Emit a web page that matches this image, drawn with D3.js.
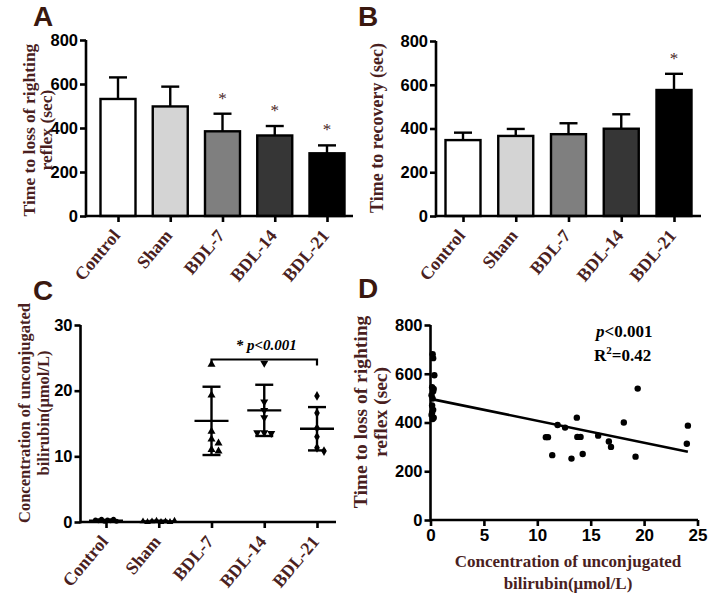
<!DOCTYPE html>
<html><head><meta charset="utf-8">
<script src="https://cdn.jsdelivr.net/npm/d3@7"></script>
<style>body{margin:0;background:#fff}svg{display:block}</style>
</head><body>
<svg id="c" width="708" height="593"></svg>
<script>
// ---------------- DATA ----------------
const categories = ["Control", "Sham", "BDL-7", "BDL-14", "BDL-21"];
const barFills = ["#ffffff", "#d4d4d4", "#7f7f7f", "#363636", "#000000"];

// Panel A: time to loss of righting reflex (sec)
const lorrMean = [532, 498, 385, 366, 285];
const lorrErr = [98, 90, 80, 43, 36];
const lorrSig = [false, false, true, true, true];

// Panel B: time to recovery (sec)
const recMean = [347, 366, 374, 399, 576];
const recErr = [34, 32, 50, 66, 74];
const recSig = [false, false, false, false, true];

const barTicks = [0, 200, 400, 600, 800];

// Panel C: unconjugated bilirubin (umol/L)
const biliControl = [0.3, 0.2, 0.4, 0.1, 0.3, 0.2, 0.4, 0.1];
const biliSham = [0.1, 0.0, 0.1, 0.2, 0.0, 0.1, 0.0, 0.2];
const biliBDL7 = [24.0, 19.3, 13.8, 12.6, 12.0, 11.0, 10.8];
const biliBDL14 = [24.2, 18.3, 17.0, 15.9, 13.6, 13.5, 13.6];
const biliBDL21 = [19.2, 16.6, 14.3, 13.0, 11.3, 10.8];
const biliMean = [0.2, 0.1, 15.4, 17.0, 14.2];
const biliSD = [0.1, 0.1, 5.2, 3.9, 3.3];
const biliTicks = [0, 10, 20, 30];

// Panel D: correlation
const corrBili = [0.2, 0.25, 0.36, 0.15, 0.3, 0.25, 0.1, 0.2, 0.15, 0.25, 0.1, 0.2, 0.3, 0.15,
  10.8, 11.0, 11.4, 11.9, 12.6, 13.2, 13.7, 13.75, 14.05, 14.25, 15.7, 16.7, 16.9, 18.1, 19.4, 19.2, 24.1, 24.0];
const corrLorr = [680, 664, 594, 545, 538, 528, 512, 498, 470, 452, 431, 414, 420, 440,
  340, 340, 266, 390, 379, 252, 420, 341, 341, 271, 346, 322, 300, 400, 539, 260, 387, 313];
const fitX = [0, 24.1];
const fitY = [497, 280];
const corrXTicks = [0, 5, 10, 15, 20, 25];
const corrYTicks = [0, 200, 400, 600, 800];

// ---------------- STYLE ----------------
const SERIF = "'Liberation Serif','Times New Roman',serif";
const SANS = "'Liberation Sans',Arial,sans-serif";
const BROWN = "#4a1f1f";
const LETTER = "#3a180f";
const AXW = 2.6;

const svg = d3.select("#c");
svg.append("rect").attr("width", 708).attr("height", 593).attr("fill", "#fff");

function yAxis(g, scale, ticks, x, size) {
  const ax = g.append("g").attr("transform", `translate(${x},0)`)
    .call(d3.axisLeft(scale).tickValues(ticks).tickSize(6).tickPadding(2).tickSizeOuter(0));
  ax.select(".domain").remove();
  ax.selectAll(".tick line").attr("stroke", "#000").attr("stroke-width", AXW);
  ax.selectAll(".tick text").attr("font-family", SANS).attr("font-weight", "bold")
    .attr("font-size", size || 16.5).attr("fill", "#000");
  const r = scale.range();
  g.append("line").attr("x1", x).attr("x2", x).attr("y1", r[0] + AXW / 2).attr("y2", r[1])
    .attr("stroke", "#000").attr("stroke-width", AXW);
}

function catAxis(g, xs, y, x0, x1) {
  g.append("line").attr("x1", x0).attr("x2", x1).attr("y1", y).attr("y2", y)
    .attr("stroke", "#000").attr("stroke-width", AXW);
  const ax = g.append("g").attr("transform", `translate(0,${y})`)
    .call(d3.axisBottom(xs).tickSize(6).tickSizeOuter(0).tickFormat(""));
  ax.select(".domain").remove();
  ax.selectAll(".tick line").attr("stroke", "#000").attr("stroke-width", AXW);
  g.selectAll(null).data(categories).enter().append("text")
    .attr("transform", d => `translate(${xs(d) + 3},${y + 20}) rotate(-50)`)
    .attr("text-anchor", "end").attr("font-family", SERIF).attr("font-weight", "bold")
    .attr("font-size", 18).attr("fill", BROWN).text(d => d);
}

function yTitle(g, lines, cx, cy, size, gap) {
  const t = g.append("text").attr("transform", `translate(${cx},${cy}) rotate(-90)`)
    .attr("text-anchor", "middle").attr("font-family", SERIF).attr("font-weight", "bold")
    .attr("font-size", size).attr("fill", BROWN);
  lines.forEach((l, i) => t.append("tspan").attr("x", 0)
    .attr("dy", i === 0 ? -(lines.length - 1) * gap / 2 : gap).text(l));
}

function letter(txt, x, y) {
  svg.append("text").attr("x", x).attr("y", y).attr("font-family", SANS).attr("font-weight", "bold")
    .attr("font-size", 28).attr("fill", LETTER).text(txt);
}

function barPanel(mean, err, sig, xRange, axisX0, axisX1, yRange) {
  const g = svg.append("g");
  const x = d3.scalePoint().domain(categories).range(xRange);
  const y = d3.scaleLinear().domain([0, 800]).range(yRange);
  const bw = 35, cap = 9;
  categories.forEach((c, i) => {
    const cx = x(c);
    g.append("line").attr("x1", cx).attr("x2", cx).attr("y1", y(mean[i])).attr("y2", y(mean[i] + err[i]))
      .attr("stroke", "#000").attr("stroke-width", 2.4);
    g.append("line").attr("x1", cx - cap).attr("x2", cx + cap).attr("y1", y(mean[i] + err[i])).attr("y2", y(mean[i] + err[i]))
      .attr("stroke", "#000").attr("stroke-width", 2.4);
    g.append("rect").attr("x", cx - bw / 2).attr("width", bw).attr("y", y(mean[i]))
      .attr("height", y(0) - y(mean[i])).attr("fill", barFills[i]).attr("stroke", "#000").attr("stroke-width", 2.4);
    if (sig[i]) g.append("text").attr("x", cx).attr("y", y(mean[i] + err[i]) - 10).attr("text-anchor", "middle")
      .attr("font-family", SERIF).attr("font-size", 17).attr("fill", BROWN).text("*");
  });
  catAxis(g, x, y(0), axisX0, axisX1);
  yAxis(g, y, barTicks, axisX0);
  return g;
}

// ---------- Panel A ----------
const gA = barPanel(lorrMean, lorrErr, lorrSig, [118, 327], 86, 353, [216, 40]);
yTitle(gA, ["Time to loss of righting", "reflex (sec)"], 43.5, 130, 17.5, 16.5);
letter("A", 33, 26);

// ---------- Panel B ----------
const gB = barPanel(recMean, recErr, recSig, [463, 674], 436, 701, [216, 41]);
yTitle(gB, ["Time to recovery (sec)"], 383, 128, 18, 17);
letter("B", 358, 26);

// ---------- Panel C ----------
(function () {
  const g = svg.append("g");
  const x = d3.scalePoint().domain(categories).range([106, 317]);
  const y = d3.scaleLinear().domain([0, 30]).range([522, 325]);
  const groups = [biliControl, biliSham, biliBDL7, biliBDL14, biliBDL21];
  const shapes = [d3.symbolCircle, d3.symbolTriangle, d3.symbolTriangle, d3.symbolTriangle, d3.symbolDiamond];
  const rot = [0, 0, 0, 180, 0];
  const spread = [3, 4.5, 0, 0, 0];
  const half = 17, cap = 9;
  categories.forEach((c, i) => {
    const cx = x(c);
    const m = biliMean[i], s = biliSD[i];
    const vals = groups[i];
    const placed = [];
    vals.forEach((v, j) => {
      let dx;
      if (spread[i] > 0) dx = (j - (vals.length - 1) / 2) * spread[i];
      else {
        const py = y(v);
        let k = 0;
        const offs = [0, 3.5, -3.5, 7, -7, 10.5, -10.5];
        while (placed.some(p => Math.abs(p[1] - py) < 5 && Math.abs(p[0] - (cx + offs[k])) < 6) && k < offs.length - 1) k++;
        dx = offs[k];
      }
      placed.push([cx + dx, y(v)]);
      g.append("path").attr("d", d3.symbol().type(shapes[i]).size(i < 2 ? 20 : 28)())
        .attr("transform", `translate(${cx + dx},${y(v)}) rotate(${rot[i]})`)
        .attr("fill", "#000");
    });
    g.append("line").attr("x1", cx - half).attr("x2", cx + half).attr("y1", y(m)).attr("y2", y(m))
      .attr("stroke", "#000").attr("stroke-width", 2.4);
    g.append("line").attr("x1", cx).attr("x2", cx).attr("y1", y(m + s)).attr("y2", y(Math.max(0, m - s)))
      .attr("stroke", "#000").attr("stroke-width", 2.4);
    [m + s, Math.max(0, m - s)].forEach(v => g.append("line").attr("x1", cx - cap).attr("x2", cx + cap)
      .attr("y1", y(v)).attr("y2", y(v)).attr("stroke", "#000").attr("stroke-width", 2.4));
  });
  const bY = 359.5;
  g.append("path").attr("d", `M${x("BDL-7")},${bY + 6}V${bY}H${x("BDL-21")}V${bY + 6}`)
    .attr("fill", "none").attr("stroke", "#000").attr("stroke-width", 2.2);
  g.append("text").attr("x", (x("BDL-7") + x("BDL-21")) / 2 + 2).attr("y", bY - 10).attr("text-anchor", "middle")
    .attr("font-family", SERIF).attr("font-weight", "bold").attr("font-style", "italic")
    .attr("font-size", 15).attr("fill", "#000").text("* p<0.001");
  catAxis(g, x, y(0), 80, 336);
  yAxis(g, y, biliTicks, 80.5);
  yTitle(g, ["Concentration of unconjugated", "bilirubin(\u03bcmol/L)"], 39, 413, 16.5, 19);
  letter("C", 33, 300);
})();

// ---------- Panel D ----------
(function () {
  const g = svg.append("g");
  const x = d3.scaleLinear().domain([0, 25]).range([430.5, 697.5]);
  const y = d3.scaleLinear().domain([0, 800]).range([520, 325]);
  g.append("line").attr("x1", 430.5).attr("x2", 698).attr("y1", 520).attr("y2", 520)
    .attr("stroke", "#000").attr("stroke-width", AXW);
  const ax = g.append("g").attr("transform", "translate(0,520)")
    .call(d3.axisBottom(x).tickValues(corrXTicks).tickSize(6).tickPadding(3).tickSizeOuter(0));
  ax.select(".domain").remove();
  ax.selectAll(".tick line").attr("stroke", "#000").attr("stroke-width", AXW);
  ax.selectAll(".tick text").attr("font-family", SANS).attr("font-weight", "bold")
    .attr("font-size", 17).attr("fill", "#000");
  yAxis(g, y, corrYTicks, 430.5);
  g.append("line").attr("x1", x(fitX[0])).attr("x2", x(fitX[1])).attr("y1", y(fitY[0])).attr("y2", y(fitY[1]))
    .attr("stroke", "#000").attr("stroke-width", 2.6);
  g.selectAll("circle.pt").data(corrBili).enter().append("circle")
    .attr("cx", d => x(d)).attr("cy", (d, i) => y(corrLorr[i])).attr("r", 3.2).attr("fill", "#000");
  const t1 = g.append("text").attr("x", 596).attr("y", 337).attr("font-family", SERIF).attr("font-weight", "bold")
    .attr("font-size", 17).attr("fill", "#000");
  t1.append("tspan").attr("font-style", "italic").text("p");
  t1.append("tspan").text("<0.001");
  const t2 = g.append("text").attr("x", 594).attr("y", 361).attr("font-family", SERIF).attr("font-weight", "bold")
    .attr("font-size", 17).attr("fill", "#000");
  t2.append("tspan").text("R");
  t2.append("tspan").attr("font-size", 11).attr("dy", -7).text("2");
  t2.append("tspan").attr("dy", 7).text("=0.42");
  yTitle(g, ["Time to loss of righting", "reflex (sec)"], 377, 412, 19.5, 20);
  const xt = g.append("text").attr("text-anchor", "middle").attr("font-family", SERIF).attr("font-weight", "bold")
    .attr("font-size", 17).attr("fill", BROWN);
  xt.append("tspan").attr("x", 568).attr("y", 567).text("Concentration of unconjugated");
  xt.append("tspan").attr("x", 568).attr("y", 589).text("bilirubin(\u03bcmol/L)");
  letter("D", 358, 298);
})();
</script>
</body></html>
